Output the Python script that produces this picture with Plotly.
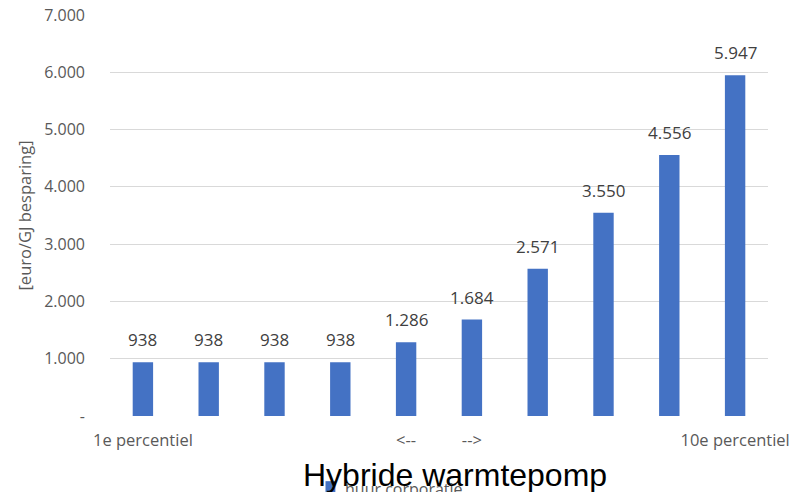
import plotly.graph_objects as go

# Savings cost per percentile group
categories = ["p1", "p2", "p3", "p4", "p5", "p6", "p7", "p8", "p9", "p10"]
tick_labels = ["1e percentiel", "", "", "", "<--", "-->", "", "", "", "10e percentiel"]
values = [938, 938, 938, 938, 1286, 1684, 2571, 3550, 4556, 5947]
series_name = "huur corporatie"
y_ticks = [0, 1000, 2000, 3000, 4000, 5000, 6000, 7000]
y_tick_labels = ["-", "1.000", "2.000", "3.000", "4.000", "5.000", "6.000", "7.000"]

BAR_COLOR = "#4472C4"
FONT = "Open Sans, Liberation Sans, sans-serif"


def nl_number(v):
    return f"{v:,}".replace(",", ".")


fig = go.Figure()
fig.add_trace(go.Bar(
    x=categories,
    y=values,
    name=series_name,
    marker=dict(color=BAR_COLOR, line=dict(width=0)),
    showlegend=False,
))

# value labels above each bar
annotations = [
    dict(
        x=c, y=v, xref="x", yref="y",
        text=nl_number(v),
        showarrow=False,
        yanchor="bottom",
        yshift=9,
        font=dict(family=FONT, size=17, color="#404040"),
    )
    for c, v in zip(categories, values)
]

# chart title below the axis
annotations.append(dict(
    text="Hybride warmtepomp",
    xref="paper", yref="paper",
    x=0.525, y=-0.097,
    xanchor="center", yanchor="top",
    showarrow=False,
    font=dict(family="Liberation Sans, Arial, sans-serif", size=32, color="#000000"),
))

# legend entry (square swatch + series name)
annotations.append(dict(
    text=series_name,
    xref="paper", yref="paper",
    x=0.354, y=-0.150,
    xanchor="left", yanchor="top",
    showarrow=False,
    font=dict(family=FONT, size=16, color="#595959"),
))

shapes = [dict(
    type="rect", xref="paper", yref="paper",
    x0=0.3275, x1=0.3425, y0=-0.1625, y1=-0.19,
    fillcolor=BAR_COLOR, line=dict(width=0),
)]

fig.update_layout(
    width=792,
    height=492,
    margin=dict(l=110, r=24, t=15, b=76, autoexpand=False),
    paper_bgcolor="white",
    plot_bgcolor="white",
    bargap=0.69,
    font=dict(family=FONT, color="#595959"),
    showlegend=False,
    xaxis=dict(
        tickmode="array",
        tickvals=categories,
        ticktext=tick_labels,
        tickfont=dict(size=16.5, color="#595959"),
        showgrid=False,
        showline=False,
        ticks="",
        ticklabelstandoff=12,
        automargin=False,
    ),
    yaxis=dict(
        range=[0, 7000],
        tickmode="array",
        tickvals=y_ticks,
        ticktext=y_tick_labels,
        tickfont=dict(size=16, color="#595959"),
        showgrid=True,
        gridcolor="#D9D9D9",
        gridwidth=1.2,
        zeroline=False,
        showline=False,
        ticks="",
        ticklabelstandoff=24,
        automargin=False,
        title=dict(
            text="[euro/GJ besparing]",
            font=dict(size=16.5, color="#595959"),
            standoff=8,
        ),
    ),
    annotations=annotations,
    shapes=shapes,
)

fig.write_html("out.html")
